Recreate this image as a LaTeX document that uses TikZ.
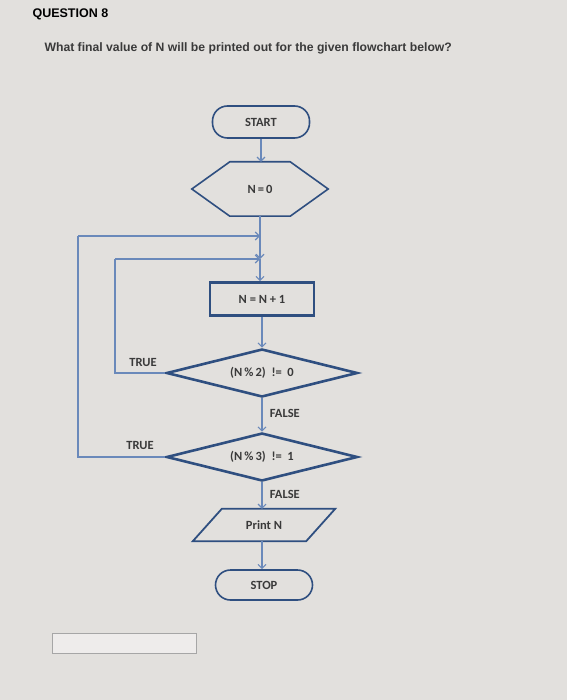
\documentclass[tikz,border=0pt]{standalone}
\usepackage{fontspec}
\setmainfont{Carlito}
\newfontfamily\qfont{Liberation Sans}
\usetikzlibrary{arrows.meta,shapes.geometric}
\definecolor{bg}{HTML}{E2E0DD}
\definecolor{shapeblue}{HTML}{2F4F80}
\definecolor{linkblue}{HTML}{6A89BA}
\definecolor{txt}{HTML}{3A3A3A}
\begin{document}
\begin{tikzpicture}[x=1pt,y=-1pt,
  lbl/.style={text=txt,font=\fontsize{12.5}{14}\selectfont\bfseries},
  term/.style={draw=shapeblue,line width=1.6pt,rounded corners=15pt,minimum width=97pt,minimum height=32pt,inner sep=0pt,lbl},
  procbox/.style={draw=shapeblue,line width=2.6pt,minimum width=104pt,minimum height=33pt,inner sep=0pt,lbl},
  decision/.style={draw=shapeblue,line width=2.6pt,diamond,aspect=4,minimum width=191pt,minimum height=48pt,inner sep=0pt,lbl},
  ghost/.style={minimum width=#1,inner sep=0pt,lbl},
  link/.style={draw=linkblue,line width=1.1pt,-{Straight Barb[length=4pt,width=8pt]}},
  loop/.style={draw=linkblue,line width=1.1pt}]
\useasboundingbox[fill=bg] (0,0) rectangle (567,700);
% header
\node[anchor=west,text=black,font=\qfont\fontsize{12.5}{15}\selectfont\bfseries] (q) at (29,14) {QUESTION 8};
\node[anchor=west,text=txt,font=\qfont\fontsize{12.2}{14}\selectfont\bfseries] (qt) at (41,48) {What final value of N will be printed out for the given flowchart below?};
% shapes
\node[term] (start) at (261,122) {START};
\node[ghost=136pt,minimum height=54pt] (init) at (260,189) {N\,=\,0};
\draw[shapeblue,line width=1.6pt] (init.west) -- ([xshift=38pt]init.north west) -- ([xshift=-38pt]init.north east) -- (init.east) -- ([xshift=-38pt]init.south east) -- ([xshift=38pt]init.south west) -- cycle;
\node[procbox] (inc) at (262,299) {N = N + 1};
\node[decision] (d1) at (262,373) {(N\,\%\,2)\ \ != \ 0};
\node[decision] (d2) at (262,457) {(N\,\%\,3)\ \ != \ 1};
\node[ghost=142pt,minimum height=32pt] (pr) at (264,525) {Print N};
\draw[shapeblue,line width=1.8pt] ([xshift=29pt]pr.north west) -- (pr.north east) -- ([xshift=-29pt]pr.south east) -- (pr.south west) -- cycle;
\node[term,minimum width=97pt,minimum height=30pt] (stop) at (264,585) {STOP};
% connectors
\coordinate (j1) at (init.south |- 0,236);
\coordinate (j2) at (init.south |- 0,259);
\draw[link] (start) -- (start.south |- init.north);
\draw[loop] (init.south) -- (j1);
\draw[link] (j1) -- (j2);
\draw[link] (j2) -- (j2 |- inc.north);
\draw[link] (inc.south) -- (inc.south |- d1.north);
\draw[link] (d1.south) -- (d2.north) node[pos=0.45,right=4pt,lbl] {FALSE};
\draw[link] (d2.south) -- (d2.south |- pr.north) node[pos=0.45,right=4pt,lbl] {FALSE};
\draw[link] (pr.south -| d2.south) -- (d2.south |- stop.north);
\coordinate (c1) at (115,373);
\coordinate (c2) at (78,457);
\draw[loop] (d1.west) -- (c1) -- (c1 |- j2);
\draw[link] (c1 |- j2) -- (j2);
\draw[loop] (d2.west) -- (c2) -- (c2 |- j1);
\draw[link] (c2 |- j1) -- (j1);
\node[lbl] (t1) at (143,362) {TRUE};
\node[lbl] (t2) at (140,445) {TRUE};
% empty answer box
\node[draw=gray!70,line width=0.8pt,fill=bg!60!white,minimum width=144pt,minimum height=20pt,inner sep=0pt] (ans) at (124,643) {};
\end{tikzpicture}
\end{document}
